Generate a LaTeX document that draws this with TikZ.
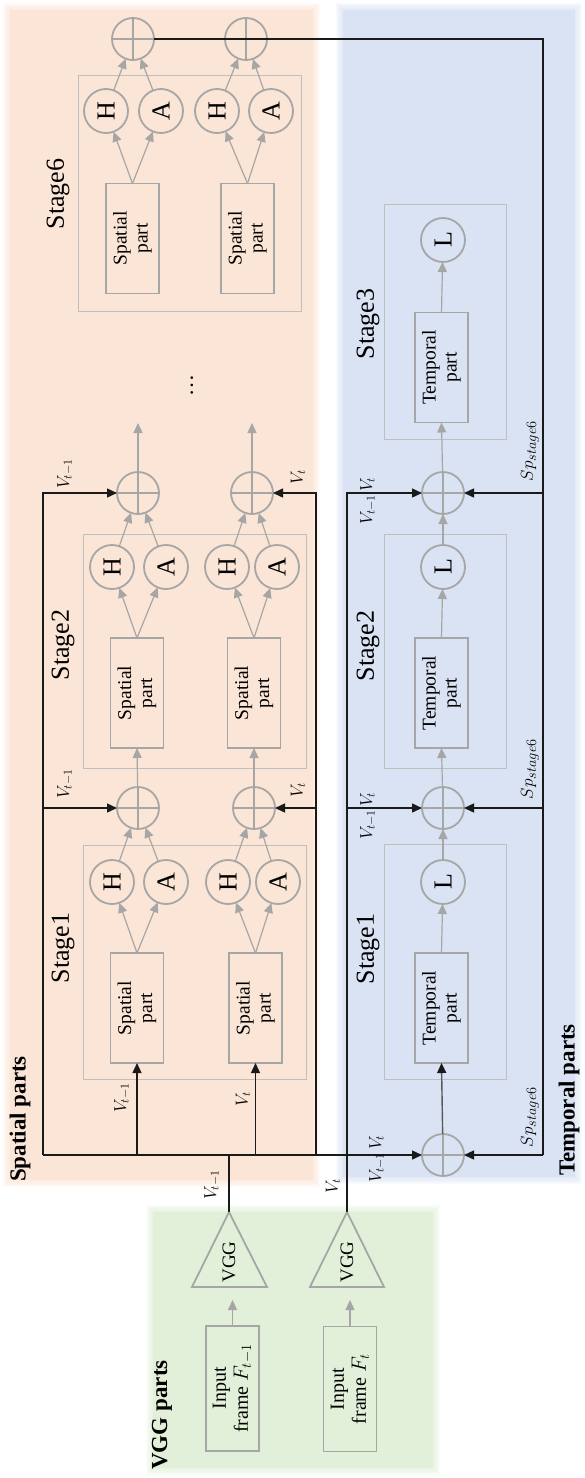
\documentclass[tikz,border=0pt]{standalone}
\usepackage{fontspec}
\setmainfont{Liberation Serif}
\usetikzlibrary{arrows.meta}
\definecolor{peach}{HTML}{FBE5D6}
\definecolor{bluebg}{HTML}{DAE3F3}
\definecolor{greenbg}{HTML}{E2F0D9}
\definecolor{gline}{HTML}{A6A6A6}
\definecolor{gbox}{HTML}{BFBFBF}
\definecolor{blk}{HTML}{1A1A1A}
\definecolor{dgray}{HTML}{595959}
\newcommand{\fsz}[2]{\fontsize{#1}{#2}\selectfont}
\begin{document}
\begin{tikzpicture}[x=1pt,y=-1pt,
  every node/.style={inner sep=0pt, outer sep=0pt},
  partbox/.style={draw=gline, line width=1.8pt, rotate=90, minimum width=110pt, minimum height=53pt, align=center, font=\fsz{19.5}{21}},
  inbox/.style={draw=gline, line width=1.8pt, rotate=90, minimum width=125pt, minimum height=53pt, align=center, font=\fsz{20}{22}},
  stbox/.style={draw=gbox, line width=1pt},
  hcirc/.style={circle, draw=gline, line width=1.8pt, minimum size=44pt, rotate=90, font=\fsz{26}{26}},
  plus/.style={circle, draw=gline, line width=1.8pt, minimum size=42pt,
    path picture={\draw[gline, line width=1.8pt] (path picture bounding box.north) -- (path picture bounding box.south) (path picture bounding box.west) -- (path picture bounding box.east);}},
  stlab/.style={rotate=90, font=\fsz{26}{26}},
  lab/.style={rotate=90, font=\fsz{17}{17}},
  sec/.style={rotate=90, font=\fsz{23}{23}\bfseries},
  garr/.style={draw=gline, line width=1.2pt, -{Triangle[length=10pt,width=9pt]}},
  barr/.style={draw=blk, line width=1.4pt, -{Triangle[length=10pt,width=9pt]}},
  bline/.style={draw=blk, line width=1.4pt},
  vggtri/.style={draw=gline, line width=1.8pt}
]
\useasboundingbox (0,0) rectangle (584,1478);
% backgrounds with soft edges
\foreach \k in {1,...,7}{
  \fill[peach, opacity=0.16] (10-\k,10-\k) rectangle (313+\k,1180+\k);
  \fill[bluebg, opacity=0.16] (343-\k,10-\k) rectangle (575+\k,1177+\k);
  \fill[greenbg, opacity=0.16] (153-\k,1212-\k) rectangle (433+\k,1468+\k);
}
\fill[peach] (10,10) rectangle (313,1180);
\fill[bluebg] (343,10) rectangle (575,1177);
\fill[greenbg] (153,1212) rectangle (433,1468);

% ---------------- Spatial stage 6
\node[stbox, minimum width=223pt, minimum height=236pt] (S6box) at (189.5,193) {};
\node[stlab] (S6lab) at (58,194) {Stage6};
\node[partbox] (S6pa) at (132.5,238.5) {Spatial\\part};
\node[partbox] (S6pb) at (247.5,238.5) {Spatial\\part};
\node[hcirc] (S6ha) at (106,111) {H};
\node[hcirc] (S6aa) at (161,111) {A};
\node[hcirc] (S6hb) at (217,111) {H};
\node[hcirc] (S6ab) at (271,111) {A};
\node[plus] (S6pla) at (133,39) {};
\node[plus] (S6plb) at (246,39) {};

% ---------------- Spatial stage 2
\node[stbox, minimum width=223pt, minimum height=234pt] (S2box) at (194.5,651) {};
\node[stlab] (S2lab) at (63,645) {Stage2};
\node[partbox] (S2pa) at (137,693) {Spatial\\part};
\node[partbox] (S2pb) at (254,693) {Spatial\\part};
\node[hcirc] (S2ha) at (112,567) {H};
\node[hcirc] (S2aa) at (166,567) {A};
\node[hcirc] (S2hb) at (227,567) {H};
\node[hcirc] (S2ab) at (277,567) {A};
\node[plus] (S2pla) at (138,493) {};
\node[plus] (S2plb) at (252,493) {};

% ---------------- Spatial stage 1
\node[stbox, minimum width=223pt, minimum height=234pt] (S1box) at (194.5,962) {};
\node[stlab] (S1lab) at (63,948) {Stage1};
\node[partbox] (S1pa) at (137,1008) {Spatial\\part};
\node[partbox] (S1pb) at (255.5,1008) {Spatial\\part};
\node[hcirc] (S1ha) at (112,882) {H};
\node[hcirc] (S1aa) at (166,882) {A};
\node[hcirc] (S1hb) at (228,882) {H};
\node[hcirc] (S1ab) at (278,882) {A};
\node[plus] (S1pla) at (138,808) {};
\node[plus] (S1plb) at (254,808) {};

% spatial gray arrows
\foreach \s in {S1,S2,S6}{
  \foreach \c in {a,b}{
    \draw[garr] (\s p\c.east) -- (\s h\c);
    \draw[garr] (\s p\c.east) -- (\s a\c);
    \draw[garr] (\s h\c) -- (\s pl\c);
    \draw[garr] (\s a\c) -- (\s pl\c);
  }
}
\draw[garr] (S1pla) -- (S2pa.west);
\draw[garr] (S1plb) -- (S2pb.west);
\coordinate (upa) at (138,423);
\coordinate (upb) at (252,423);
\draw[garr] (S2pla) -- (upa);
\draw[garr] (S2plb) -- (upb);
\node[rotate=90, font=\fsz{22}{22}] (dots) at (192,385) {\dots};

% ---------------- Temporal stages
\node[stbox, minimum width=122pt, minimum height=235pt] (T3box) at (445,321.5) {};
\node[stlab] (T3lab) at (368,324) {Stage3};
\node[partbox] (T3p) at (441.5,367.5) {Temporal\\part};
\node[hcirc] (T3L) at (443,240) {L};

\node[stbox, minimum width=122pt, minimum height=234pt] (T2box) at (445,651) {};
\node[stlab] (T2lab) at (368,646) {Stage2};
\node[partbox] (T2p) at (441.5,693) {Temporal\\part};
\node[hcirc] (T2L) at (443,567) {L};

\node[stbox, minimum width=122pt, minimum height=235pt] (T1box) at (445,961.5) {};
\node[stlab] (T1lab) at (368,949) {Stage1};
\node[partbox] (T1p) at (441.5,1008) {Temporal\\part};
\node[hcirc] (T1L) at (443,882) {L};

\node[plus] (pT0) at (443,1155) {};
\node[plus] (pT1) at (443,808) {};
\node[plus] (pT2) at (443,493) {};

\draw[garr] (T1p.east) -- (T1L);
\draw[garr] (T1L) -- (pT1);
\draw[garr] (pT1) -- (T2p.west);
\draw[garr] (T2p.east) -- (T2L);
\draw[garr] (T2L) -- (pT2);
\draw[garr] (pT2) -- (T3p.west);
\draw[garr] (T3p.east) -- (T3L);
\draw[draw=dgray, line width=1.4pt, -{Triangle[length=10pt,width=9pt,color=blk]}] (pT0) -- (T1p.west);

% ---------------- VGG parts
\coordinate (v1o) at (229,1212);
\coordinate (v1l) at (192,1287);
\coordinate (v1r) at (267,1287);
\coordinate (v1b) at (229,1287);
\coordinate (v2o) at (347,1212);
\coordinate (v2l) at (310,1287);
\coordinate (v2r) at (384,1287);
\coordinate (v2b) at (347,1287);
\draw[vggtri] (v1o) -- (v1r) -- (v1l) -- cycle;
\draw[vggtri] (v2o) -- (v2r) -- (v2l) -- cycle;
\node[rotate=90, font=\fsz{19}{19}] (vgg1) at (229,1262) {VGG};
\node[rotate=90, font=\fsz{19}{19}] (vgg2) at (347,1262) {VGG};
\node[inbox] (in1) at (232.5,1388.5) {Input\\frame $F_{t-1}$};
\node[inbox] (in2) at (350,1389) {Input\\frame $F_{t}$};
\draw[garr, shorten >=13pt] (in1.east) -- (in1.east |- v1b);
\draw[garr, shorten >=13pt] (in2.east) -- (in2.east |- v2b);

% ---------------- black wiring
\coordinate (bL) at (43,1155);
\coordinate (bR) at (316,1155);
\coordinate (tR) at (543,39);
\coordinate (tRb) at (543,1155);
\draw[draw=blk, line width=2.2pt] (v1o) -- (v1o |- bL);
\draw[barr] (bL) -- (pT0);
\draw[barr] (bL) |- (S2pla);
\draw[barr] (bL |- S1pla) -- (S1pla);
\draw[barr] (S1pa.west |- bL) -- (S1pa.west);
\draw[barr] (S1pb.west |- bL) -- (S1pb.west);
\draw[barr] (bR) |- (S2plb);
\draw[barr] (bR |- S1plb) -- (S1plb);
\draw[barr] (v2o) |- (pT2);
\draw[barr] (v2o |- pT1) -- (pT1);
\draw[bline] (S6pla.east) -- (tR) -- (tRb);
\draw[barr] (tRb) -- (pT0);
\draw[barr] (tR |- pT1) -- (pT1);
\draw[barr] (tR |- pT2) -- (pT2);

% ---------------- labels
\node[lab] (l1) at (65,474) {$V_{t-1}$};
\node[lab] (l2) at (65,784) {$V_{t-1}$};
\node[lab] (l3) at (298,477) {$V_t$};
\node[lab] (l4) at (298,790) {$V_t$};
\node[lab] (l5) at (122,1098) {$V_{t-1}$};
\node[lab] (l6) at (243,1099) {$V_t$};
\node[lab] (l7) at (212,1185) {$V_{t-1}$};
\node[lab] (l8) at (333,1186) {$V_t$};
\node[lab] (l9) at (368,501) {$V_{t-1}\,V_t$};
\node[lab] (l10) at (368,816) {$V_{t-1}\,V_t$};
\node[lab] (l11) at (377,1159) {$V_{t-1}\,V_t$};
\node[lab, font=\fsz{19}{19}] (l12) at (530,451) {$Sp_{stage6}$};
\node[lab, font=\fsz{19}{19}] (l13) at (530,769) {$Sp_{stage6}$};
\node[lab, font=\fsz{19}{19}] (l14) at (530,1117) {$Sp_{stage6}$};

\node[sec] (secS) at (20,1119) {Spatial parts};
\node[sec] (secT) at (569,1100) {Temporal parts};
\node[sec] (secV) at (162,1415) {VGG parts};
\end{tikzpicture}
\end{document}
